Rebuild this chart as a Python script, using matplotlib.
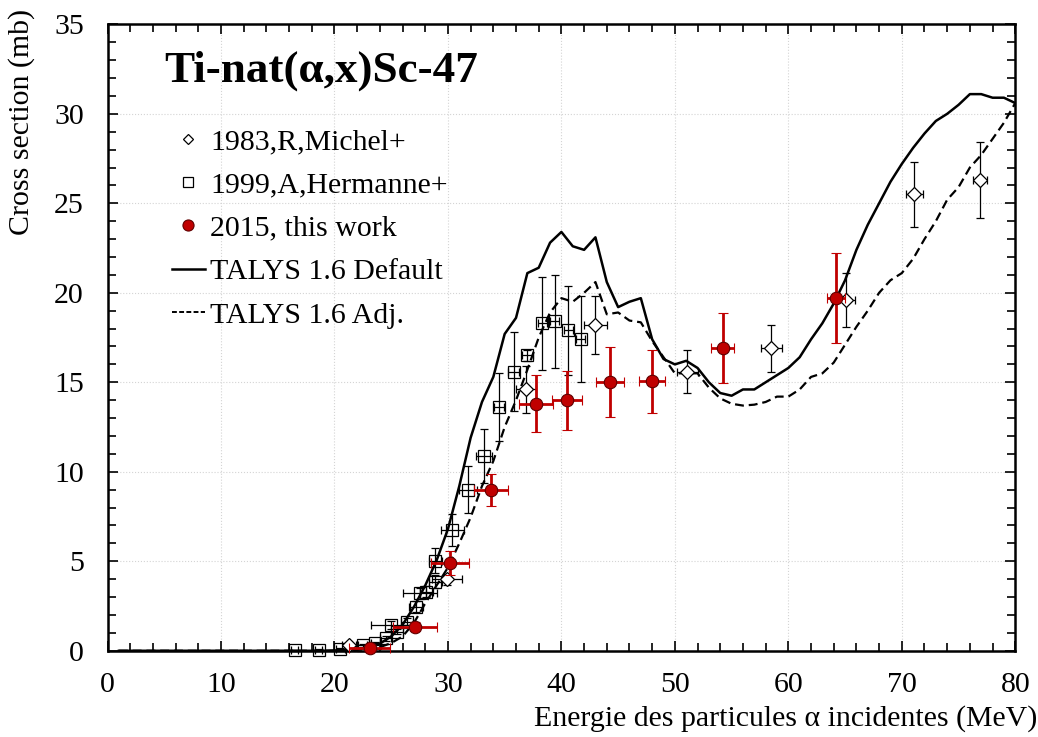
import numpy as np
import matplotlib
matplotlib.use('Agg')
import matplotlib.pyplot as plt
from matplotlib.lines import Line2D
from matplotlib.ticker import MultipleLocator

plt.rcParams['font.family'] = ['Liberation Serif', 'DejaVu Serif']

# TALYS 1.6 calculations (1 MeV grid)
e_talys = np.arange(1, 81)
talys_def = [0] * 19 + [
    0.02, 0.05, 0.1, 0.15, 0.4, 0.8, 1.45, 2.45, 3.65, 5.05,
    6.8, 9.2, 11.9, 13.9, 15.3, 17.7, 18.6, 21.1, 21.4, 22.8,
    23.4, 22.6, 22.4, 23.1, 20.6, 19.2, 19.5, 19.7, 17.4, 16.3,
    16.0, 16.2, 15.8, 15.0, 14.4, 14.25, 14.6, 14.6, 15.0, 15.4,
    15.8, 16.4, 17.4, 18.3, 19.4, 20.7, 22.4, 23.8, 25.0, 26.2,
    27.2, 28.1, 28.9, 29.6, 30.0, 30.5, 31.1, 31.1, 30.9, 30.9, 30.6]
talys_adj = [0] * 20 + [
    0.02, 0.05, 0.1, 0.2, 0.43, 0.8, 1.55, 2.65, 3.65,
    4.65, 6.0, 7.45, 9.2, 10.6, 12.5, 14.0, 15.7, 17.5, 18.9,
    19.7, 19.5, 20.0, 20.6, 18.8, 18.9, 18.45, 18.35, 17.3, 16.4,
    15.5, 15.5, 15.5, 14.7, 14.1, 13.8, 13.7, 13.75, 13.9, 14.2,
    14.2, 14.6, 15.3, 15.5, 16.1, 17.1, 18.1, 19.0, 20.0, 20.7,
    21.1, 21.9, 23.0, 24.0, 25.2, 25.9, 27.0, 27.7, 28.6, 29.5, 30.6]

# 1983, R. Michel
michel_e = [21.3, 29.9, 36.9, 43.0, 51.1, 58.5, 65.1, 71.1, 76.9]
michel_s = [0.33, 4.0, 14.6, 18.2, 15.6, 16.9, 19.6, 25.5, 26.3]
michel_ds = [0.1, 0.3, 1.3, 1.6, 1.2, 1.3, 1.5, 1.8, 2.1]
michel_de = [0.6, 1.3, 0.9, 1.0, 0.9, 0.9, 0.75, 0.75, 0.6]

# 1999, A. Hermanne
herm_e = [16.5, 18.6, 20.5, 22.5, 23.6, 24.5, 25.0, 25.5, 26.4, 27.2, 27.5, 28.1,
          28.9, 28.9, 30.4, 31.8, 33.2, 34.5, 35.8, 37.0, 38.3, 39.4, 40.6, 41.7]
herm_s = [0.02, 0.03, 0.08, 0.3, 0.41, 0.69, 1.44, 1.06, 1.62, 2.46, 3.2, 3.3,
          3.86, 5.03, 6.75, 9.0, 10.9, 13.6, 15.6, 16.5, 18.3, 18.4, 17.9, 17.4]
herm_ds = [0.05, 0.05, 0.1, 0.1, 0.1, 0.15, 0.2, 0.15, 0.2, 0.3, 0.3, 0.3,
           0.35, 0.7, 0.9, 1.3, 1.5, 1.9, 2.2, 0.3, 2.6, 2.6, 2.5, 2.4]
herm_de = [0.3, 0.3, 0.4, 0.4, 0.4, 0.5, 1.8, 0.5, 0.5, 0.6, 1.5, 0.6,
           0.6, 0.6, 1.0, 0.8, 0.7, 0.4, 0.5, 0.5, 0.4, 0.4, 0.4, 0.4]

# 2015, this work
tw_e = [23.1, 27.1, 30.2, 33.8, 37.8, 40.5, 44.3, 48.0, 54.2, 64.2]
tw_s = [0.14, 1.34, 4.9, 9.0, 13.8, 14.0, 15.0, 15.05, 16.9, 19.7]
tw_ds = [0.1, 0.25, 0.65, 0.9, 1.6, 1.65, 1.95, 1.75, 1.95, 2.5]
tw_de = [1.8, 1.9, 1.65, 1.5, 1.5, 1.3, 1.25, 1.15, 1.0, 0.8]

red = '#c00000'
fs = 21.5

fig = plt.figure(figsize=(10.38, 7.37), dpi=100)
ax = fig.add_axes([0.1036, 0.117, 0.8745, 0.85])

ax.plot(e_talys, talys_def, color='black', lw=1.8, zorder=2)
ax.plot(e_talys, talys_adj, color='black', lw=1.6, dashes=(4, 2.2), zorder=2)

c1 = ax.errorbar(herm_e, herm_s, yerr=herm_ds, xerr=herm_de, fmt='s', ms=8,
                 mfc='none', mec='black', mew=0.9, ecolor='black', elinewidth=0.9,
                 capsize=3, capthick=0.9, zorder=3)
c2 = ax.errorbar(michel_e, michel_s, yerr=michel_ds, xerr=michel_de, fmt='D', ms=7,
                 mfc='white', mec='black', mew=0.9, ecolor='black', elinewidth=0.9,
                 capsize=3, capthick=0.9, zorder=4)
c3 = ax.errorbar(tw_e, tw_s, yerr=tw_ds, xerr=tw_de, fmt='o', ms=9,
                 mfc=red, mec='#600000', mew=0.8, ecolor=red, elinewidth=2,
                 capsize=3.5, capthick=2, zorder=5)
for c in (c1, c2, c3):
    for art in c.get_children():
        art.set_clip_on(False)

ax.set_xlim(0, 80)
ax.set_ylim(0, 35)
ax.xaxis.set_major_locator(MultipleLocator(10))
ax.xaxis.set_minor_locator(MultipleLocator(2))
ax.yaxis.set_major_locator(MultipleLocator(5))
ax.yaxis.set_minor_locator(MultipleLocator(1))
ax.tick_params(which='both', direction='in', top=True, right=True, width=1.2)
ax.tick_params(which='major', length=7, labelsize=fs)
ax.tick_params(which='minor', length=5.5)
ax.tick_params(axis='x', which='major', pad=15)
ax.tick_params(axis='y', which='major', pad=17)
for s in ax.spines.values():
    s.set_linewidth(1.8)
ax.grid(True, which='major', color='#d4d4d4', lw=0.8, ls=':')
ax.set_axisbelow(True)

fig.text(1037 / 1038, 1 - 719 / 737, 'Energie des particules α incidentes (MeV)',
         ha='right', va='center', fontsize=fs)
fig.text(22 / 1038, 1 - 122 / 737, 'Cross section (mb)', rotation=90,
         ha='center', va='center', fontsize=fs)

ax.text(5.0, 32.4, 'Ti-nat(α,x)Sc-47', fontsize=32.5, fontweight='bold', va='center')

handles = [
    Line2D([], [], ls='none', marker='D', ms=5.5, mfc='white', mec='black', mew=0.9),
    Line2D([], [], ls='none', marker='s', ms=7, mfc='white', mec='black', mew=0.9),
    Line2D([], [], ls='none', marker='o', ms=8, mfc=red, mec='#600000', mew=0.8),
    Line2D([], [], color='black', lw=1.8),
    Line2D([], [], color='black', lw=1.4, dashes=(2.5, 1.2)),
]
labels = ['1983,R,Michel+', '1999,A,Hermanne+', '2015, this work',
          'TALYS 1.6 Default', 'TALYS 1.6 Adj.']
ax.legend(handles, labels, loc='upper left', bbox_to_anchor=(0.071, 0.834),
          frameon=False, fontsize=fs, handlelength=1.1, handletextpad=0.17,
          labelspacing=0.55, borderpad=0, borderaxespad=0)

fig.savefig('out.png', dpi=100)
